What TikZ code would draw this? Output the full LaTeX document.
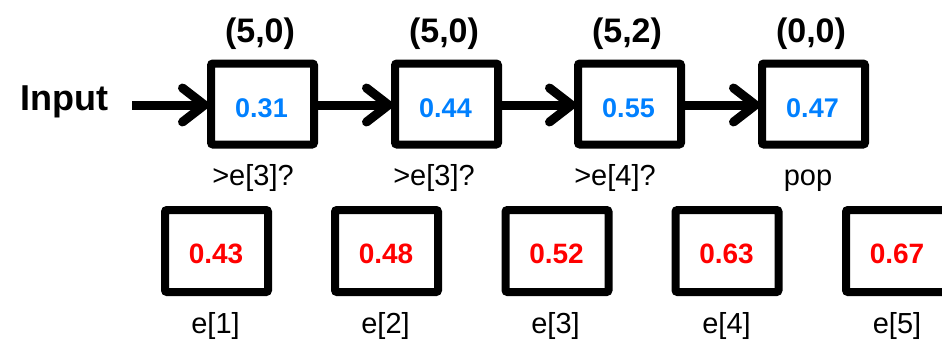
\documentclass[tikz,border=0pt]{standalone}
\usepackage{fontspec}
\setmainfont{Liberation Sans}
\usetikzlibrary{arrows.meta}
\definecolor{blueval}{RGB}{0,128,255}
\definecolor{redval}{RGB}{255,0,0}
\tikzset{
  cell/.style={draw=black, line width=8pt, rounded corners=2pt, minimum width=103pt, minimum height=81pt, inner sep=0pt},
  bluenum/.style={text=blueval, font=\fontsize{27}{30}\selectfont\bfseries, anchor=base, inner sep=0pt},
  rednum/.style={text=redval, font=\fontsize{28}{30}\selectfont\bfseries, anchor=base, inner sep=0pt},
  toplab/.style={font=\fontsize{34}{36}\selectfont\bfseries, anchor=base, inner sep=0pt},
  sublab/.style={font=\fontsize{29}{32}\selectfont, anchor=base, inner sep=0pt},
  conn/.style={line width=9pt, -{Straight Barb[length=22pt, width=34pt, line cap=round, line join=round]}, shorten >=-2pt}
}
\begin{document}
\begin{tikzpicture}[x=1pt, y=-1pt]
\clip (0,0) rectangle (942,340);
% top row
\node[cell] (t1) at (262.5,104) {};
\node[cell] (t2) at (446.5,104) {};
\node[cell] (t3) at (629.5,104) {};
\node[cell] (t4) at (813.5,104) {};
\node[bluenum] (v1) at (261.5,117) {0.31};
\node[bluenum] (v2) at (445.5,117) {0.44};
\node[bluenum] (v3) at (628.5,117) {0.55};
\node[bluenum] (v4) at (812.5,117) {0.47};
\node[toplab] (p1) at (260,42) {(5,0)};
\node[toplab] (p2) at (444,42) {(5,0)};
\node[toplab] (p3) at (627,42) {(5,2)};
\node[toplab] (p4) at (811,42) {(0,0)};
\node[sublab] (q1) at (253,185) {>e[3]?};
\node[sublab] (q2) at (434,185) {>e[3]?};
\node[sublab] (q3) at (615,185) {>e[4]?};
\node[sublab] (q4) at (808,185) {pop};
\node[font=\fontsize{36}{38}\selectfont\bfseries, anchor=base, inner sep=0pt] (in) at (64,110) {Input};
\coordinate (start) at (132,105);
% arrows
\draw[conn] (start) -- (t1.west |- start);
\draw[conn] (t1.east |- start) -- (t2.west |- start);
\draw[conn] (t2.east |- start) -- (t3.west |- start);
\draw[conn] (t3.east |- start) -- (t4.west |- start);
% bottom row
\node[cell, minimum height=82pt] (e1) at (216.5,251) {};
\node[cell, minimum height=82pt] (e2) at (386.5,251) {};
\node[cell, minimum height=82pt] (e3) at (557,251) {};
\node[cell, minimum height=82pt] (e4) at (727,251) {};
\node[cell, minimum height=82pt] (e5) at (897.5,251) {};
\node[rednum] (r1) at (216,263) {0.43};
\node[rednum] (r2) at (386,263) {0.48};
\node[rednum] (r3) at (556.5,263) {0.52};
\node[rednum] (r4) at (726.5,263) {0.63};
\node[rednum] (r5) at (897,263) {0.67};
\node[sublab] (l1) at (215.5,333) {e[1]};
\node[sublab] (l2) at (385.5,333) {e[2]};
\node[sublab] (l3) at (555.5,333) {e[3]};
\node[sublab] (l4) at (726.5,333) {e[4]};
\node[sublab] (l5) at (897,333) {e[5]};
\end{tikzpicture}
\end{document}
